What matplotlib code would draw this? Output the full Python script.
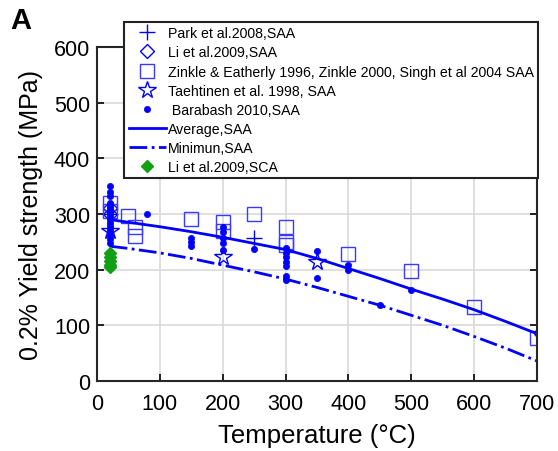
import matplotlib
matplotlib.use('Agg')
import matplotlib.pyplot as plt
import numpy as np

plt.rcParams['font.family'] = ['Liberation Sans', 'DejaVu Sans']

# Park et al. 2008, SAA
park_T = [20, 250]
park_Y = [300, 256]
# Li et al. 2009, SAA
li_T = [20, 20]
li_Y = [310, 300]
# Zinkle & Eatherly 1996, Zinkle 2000, Singh et al 2004
zin_T = [20, 20, 50, 60, 60, 150, 200, 200, 250, 300, 300, 300, 400, 500, 600, 700]
zin_Y = [320, 305, 296, 276, 261, 291, 285, 270, 300, 276, 250, 245, 228, 198, 132, 77]
# Taehtinen et al. 1998
tae_T = [20, 200, 350]
tae_Y = [270, 222, 213]
# Barabash 2010
bar_T = [20] * 17 + [80, 150, 150, 150, 200, 200, 200, 200, 200, 250,
                     300, 300, 300, 300, 300, 300, 300, 350, 350, 400, 400, 450, 500, 700]
bar_Y = [350, 340, 333, 320, 315, 310, 305, 300, 295, 290, 285, 280, 275, 270, 262, 255, 248,
         299, 256, 249, 243, 277, 268, 256, 247, 236, 237,
         239, 230, 222, 213, 207, 189, 181, 234, 185, 209, 200, 137, 164, 86]
# fitted curves
avg_T = [20, 50, 100, 150, 200, 250, 300, 350, 400, 450, 500, 550, 600, 650, 700]
avg_Y = [290, 285, 277, 268, 258, 247, 236, 220, 202, 184, 165, 147, 128, 107, 85]
min_T = [20, 50, 100, 150, 200, 250, 300, 350, 400, 450, 500, 550, 600, 650, 700]
min_Y = [242, 238, 230, 220, 208, 196, 183, 168, 152, 136, 118, 100, 80, 59, 36]
# Li et al. 2009, SCA
sca_T = [20, 20, 20, 20, 20]
sca_Y = [230, 222, 215, 209, 205]

blue = '#0000ff'
fig = plt.figure(figsize=(5.58, 4.52), dpi=100)
ax = fig.add_axes([0.174, 0.155, 0.788, 0.739])

ax.plot(park_T, park_Y, '+', color=blue, ms=12, mew=1, label='Park et al.2008,SAA')
ax.plot(li_T, li_Y, 'D', color=blue, mfc='none', ms=7, mew=1, label='Li et al.2009,SAA')
ax.plot(zin_T, zin_Y, 's', color='#3a3aff', mfc='none', ms=9.5, mew=1,
        label='Zinkle & Eatherly 1996, Zinkle 2000, Singh et al 2004 SAA')
ax.plot(tae_T, tae_Y, '*', color=blue, mfc='none', ms=13, mew=1, label='Taehtinen et al. 1998, SAA')
ax.plot(bar_T, bar_Y, 'o', color=blue, ms=4.5, mew=0.5, label=' Barabash 2010,SAA')
ax.plot(avg_T, avg_Y, '-', color=blue, lw=2, label='Average,SAA')
ax.plot(min_T, min_Y, '-.', color=blue, lw=2, label='Minimun,SAA')
ax.plot(sca_T, sca_Y, 'D', color='#11a011', ms=6, label='Li et al.2009,SCA')

ax.set_xlim(0, 700)
ax.set_ylim(0, 600)
ax.set_xticks(range(0, 701, 100))
ax.set_yticks(range(0, 601, 100))
ax.grid(True, color='#d9d9d9', lw=1.2)
ax.set_axisbelow(True)
ax.tick_params(direction='in', top=True, right=True, labelsize=15.5, length=5, width=1.2)
ax.tick_params(axis='x', pad=9)
ax.tick_params(axis='y', pad=5)
for s in ax.spines.values():
    s.set_linewidth(1.5)
    s.set_color('#262626')
ax.set_xlabel('Temperature (°C)', fontsize=18.5, labelpad=6)
ax.set_ylabel('0.2% Yield strength (MPa)', fontsize=18, labelpad=8)

leg = ax.legend(loc='upper right', bbox_to_anchor=(0.964, 0.949), bbox_transform=fig.transFigure,
                fontsize=10.2, frameon=True, fancybox=False, framealpha=1, edgecolor='#222222',
                handlelength=2.6, handletextpad=0.15, labelspacing=0.36, borderpad=0.3,
                borderaxespad=0)
leg.get_frame().set_linewidth(1.5)

fig.text(0.018, 0.985, 'A', fontsize=21, fontweight='bold', va='top', ha='left')

fig.savefig('out.png', dpi=100)
